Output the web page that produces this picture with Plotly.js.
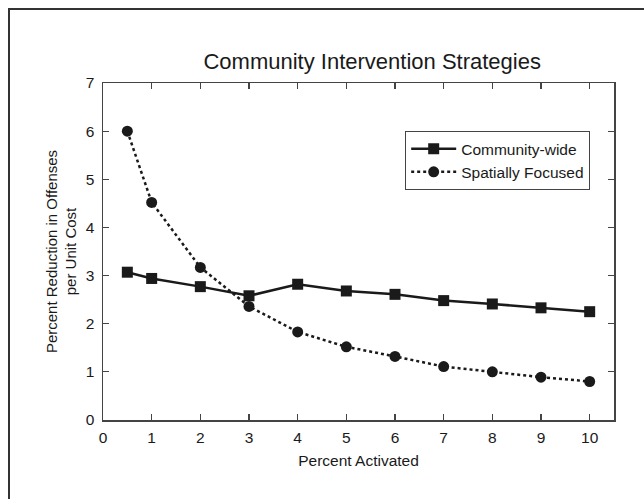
<!DOCTYPE html>
<html>
<head>
<meta charset="utf-8">
<script src="https://cdn.plot.ly/plotly-3.0.1.min.js"></script>
<style>
  html, body { margin: 0; padding: 0; background: #fff; }
  #wrap { position: relative; width: 644px; height: 499px; overflow: hidden; }
  #chart { position: absolute; left: 0; top: 0; width: 644px; height: 499px; }
  #frame { position: absolute; left: 8px; top: 8px; width: 700px; height: 600px;
           border-left: 2px solid #333; border-top: 2px solid #333; pointer-events: none; }
</style>
</head>
<body>
<div id="wrap">
  <div id="chart"></div>
  <div id="frame"></div>
</div>
<script>
// Percent of population activated
const percentActivated = [0.5, 1, 2, 3, 4, 5, 6, 7, 8, 9, 10];
// Percent reduction in offenses per unit cost
const communityWide = [3.07, 2.94, 2.77, 2.58, 2.82, 2.68, 2.61, 2.48, 2.41, 2.33, 2.25];
const spatiallyFocused = [6.00, 4.52, 3.17, 2.36, 1.83, 1.52, 1.32, 1.11, 1.00, 0.89, 0.80];

const xTicks = [0, 1, 2, 3, 4, 5, 6, 7, 8, 9, 10];
const yTicks = [0, 1, 2, 3, 4, 5, 6, 7];

const ink = '#1a1a1a';
const fontFamily = '"Liberation Sans", Arial, Helvetica, sans-serif';

const traces = [
  {
    x: percentActivated, y: communityWide, name: 'Community-wide',
    type: 'scatter', mode: 'lines+markers',
    line: { color: ink, width: 2.5, dash: 'solid' },
    marker: { symbol: 'square', size: 11, color: ink }
  },
  {
    x: percentActivated, y: spatiallyFocused, name: 'Spatially Focused',
    type: 'scatter', mode: 'lines+markers',
    line: { color: ink, width: 2.5, dash: 'dot' },
    marker: { symbol: 'circle', size: 11, color: ink }
  }
];

const axisCommon = {
  showgrid: false, zeroline: false,
  showline: true, linecolor: '#444', linewidth: 1.5, mirror: 'allticks',
  ticks: 'inside', ticklen: 6, tickwidth: 1.2, tickcolor: '#444',
  tickfont: { family: fontFamily, size: 15.5, color: ink }
};

const layout = {
  width: 644, height: 499,
  margin: { l: 103, r: 30, t: 83, b: 79, pad: 0 },
  paper_bgcolor: 'rgba(0,0,0,0)', plot_bgcolor: '#fff',
  font: { family: fontFamily, color: ink },
  title: {
    text: 'Community Intervention Strategies',
    font: { family: fontFamily, size: 22, color: ink },
    x: 0.578, xanchor: 'center', y: 0.878, yanchor: 'middle'
  },
  xaxis: Object.assign({}, axisCommon, {
    range: [0, 10.5], tickvals: xTicks, ticktext: xTicks.map(String),
    ticklabelstandoff: 3,
    title: { text: 'Percent Activated', font: { family: fontFamily, size: 15.5, color: ink }, standoff: 10 }
  }),
  yaxis: Object.assign({}, axisCommon, {
    range: [0, 7], tickvals: yTicks, ticktext: yTicks.map(String),
    ticklabelstandoff: 4,
    title: { text: 'Percent Reduction in Offenses<br>per Unit Cost', font: { family: fontFamily, size: 15, color: ink }, standoff: 5 }
  }),
  showlegend: true,
  legend: {
    x: 0.953, y: 0.858, xanchor: 'right', yanchor: 'top',
    bordercolor: '#444', borderwidth: 1.2, bgcolor: '#fff',
    font: { family: fontFamily, size: 15.5, color: ink },
    tracegroupgap: 0, itemwidth: 45,
    entrywidthmode: 'pixels', entrywidth: 165
  }
};

Plotly.newPlot('chart', traces, layout, { displayModeBar: false, staticPlot: true });
</script>
</body>
</html>
